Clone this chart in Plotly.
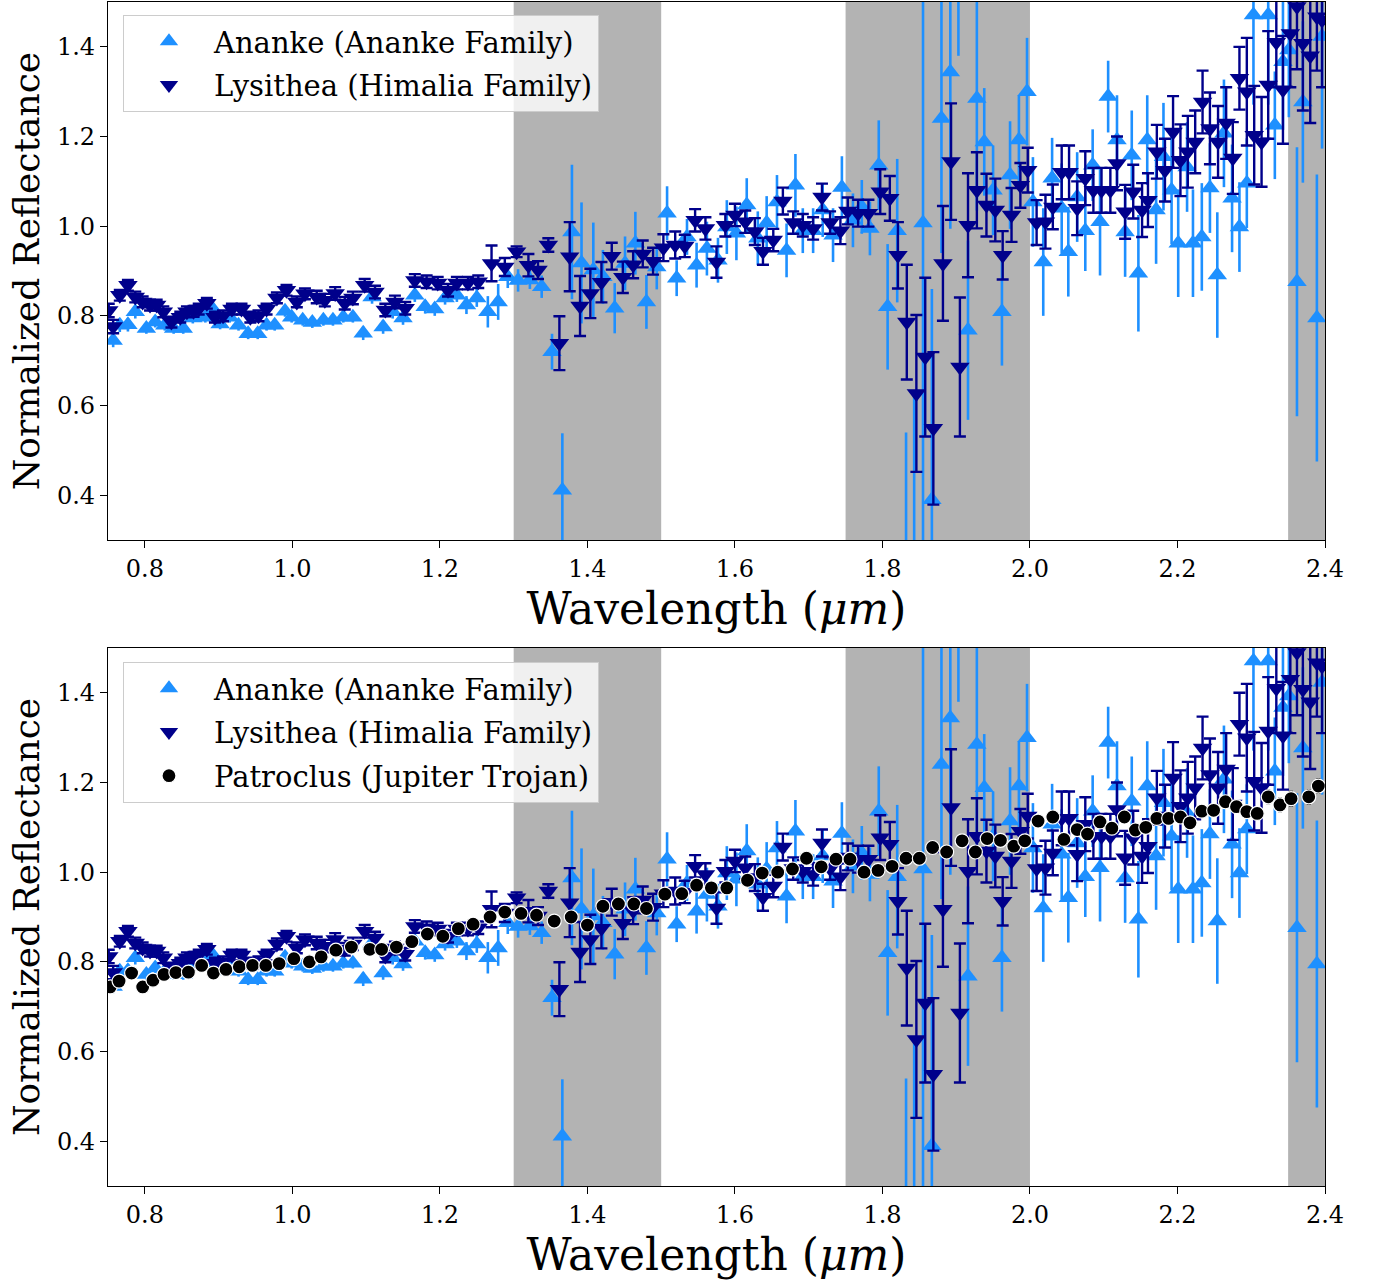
import plotly.graph_objects as go

# ---------------- data ----------------
ananke_wl = [0.757, 0.766, 0.777, 0.787, 0.802, 0.814, 0.827, 0.839, 0.852, 0.865,
             0.882, 0.892, 0.902, 0.915, 0.927, 0.940, 0.953, 0.965, 0.976, 0.990,
             0.999, 1.014, 1.027, 1.042, 1.055, 1.069, 1.082, 1.096, 1.108, 1.123,
             1.136, 1.150, 1.166, 1.180, 1.193, 1.207, 1.223, 1.236, 1.250, 1.265,
             1.279, 1.292, 1.306, 1.322, 1.338, 1.352, 1.366, 1.379, 1.392, 1.408,
             1.421, 1.437, 1.451, 1.465, 1.480, 1.494, 1.508, 1.521, 1.535, 1.548,
             1.562, 1.577, 1.589, 1.602, 1.616, 1.631, 1.643, 1.657, 1.670, 1.682,
             1.692, 1.706, 1.719, 1.733, 1.745, 1.760, 1.772, 1.783, 1.795, 1.807,
             1.820, 1.832, 1.843, 1.855, 1.867, 1.880, 1.892, 1.903, 1.916, 1.928,
             1.938, 1.950, 1.962, 1.973, 1.985, 1.996, 2.004, 2.018, 2.030, 2.043,
             2.052, 2.064, 2.075, 2.085, 2.095, 2.106, 2.118, 2.129, 2.138, 2.147,
             2.159, 2.171, 2.181, 2.192, 2.201, 2.213, 2.221, 2.233, 2.244, 2.254,
             2.263, 2.274, 2.284, 2.294, 2.303, 2.323, 2.332, 2.343, 2.351, 2.362,
             2.370, 2.389, 2.396]
ananke_refl = [0.745, 0.779, 0.780, 0.809, 0.772, 0.786, 0.779, 0.772, 0.772, 0.795,
               0.797, 0.815, 0.782, 0.797, 0.779, 0.760, 0.760, 0.779, 0.779, 0.810,
               0.797, 0.790, 0.785, 0.790, 0.790, 0.797, 0.797, 0.761, 0.842, 0.775,
               0.809, 0.795, 0.846, 0.820, 0.815, 0.840, 0.846, 0.824, 0.840, 0.809,
               0.831, 0.887, 0.879, 0.880, 0.865, 0.720, 0.411, 0.987, 0.918, 0.902,
               0.887, 0.817, 0.917, 0.962, 0.831, 0.909, 1.029, 0.884, 0.976, 0.913,
               0.950, 0.924, 0.998, 0.984, 1.047, 0.973, 1.007, 1.054, 0.946, 1.091,
               0.990, 0.990, 1.036, 0.980, 1.086, 1.013, 1.043, 0.995, 1.136, 0.820,
               0.990, 0.200, 0.250, 1.007, 0.390, 1.240, 1.344, 1.620, 0.768, 1.285,
               1.188, 1.080, 0.809, 1.114, 1.192, 1.300, 1.054, 0.920, 1.107, 1.040,
               0.943, 1.065, 0.990, 1.136, 1.010, 1.289, 1.192, 0.987, 1.158, 0.895,
               1.192, 1.036, 1.155, 1.080, 0.962, 1.132, 0.962, 0.976, 1.085, 0.891,
               1.207, 1.062, 0.998, 1.096, 1.471, 1.471, 1.225, 1.367, 1.393, 0.876,
               1.277, 0.795, 1.423]
ananke_err = [0.015, 0.015, 0.015, 0.015, 0.012, 0.012, 0.012, 0.012, 0.012, 0.012,
              0.012, 0.012, 0.012, 0.012, 0.012, 0.012, 0.012, 0.012, 0.012, 0.012,
              0.012, 0.012, 0.012, 0.012, 0.012, 0.012, 0.012, 0.015, 0.015, 0.015,
              0.015, 0.015, 0.015, 0.015, 0.015, 0.015, 0.015, 0.020, 0.020, 0.035,
              0.040, 0.025, 0.025, 0.020, 0.025, 0.040, 0.127, 0.150, 0.135, 0.106,
              0.060, 0.056, 0.060, 0.070, 0.060, 0.050, 0.060, 0.040, 0.040, 0.050,
              0.060, 0.050, 0.060, 0.060, 0.060, 0.060, 0.060, 0.060, 0.060, 0.070,
              0.050, 0.050, 0.060, 0.060, 0.070, 0.060, 0.060, 0.060, 0.100, 0.140,
              0.160, 0.340, 0.380, 0.750, 0.470, 0.300, 0.350, 0.240, 0.200, 0.250,
              0.120, 0.100, 0.120, 0.120, 0.100, 0.120, 0.100, 0.120, 0.090, 0.100,
              0.100, 0.100, 0.090, 0.080, 0.120, 0.080, 0.100, 0.100, 0.100, 0.130,
              0.100, 0.120, 0.120, 0.120, 0.120, 0.100, 0.120, 0.120, 0.100, 0.140,
              0.120, 0.120, 0.100, 0.100, 0.200, 0.200, 0.120, 0.150, 0.150, 0.300,
              0.180, 0.320, 0.250]

lysithea_wl = [0.751, 0.757, 0.766, 0.777, 0.787, 0.797, 0.807, 0.816, 0.825, 0.836,
               0.848, 0.857, 0.866, 0.873, 0.884, 0.895, 0.906, 0.918, 0.931, 0.943,
               0.954, 0.965, 0.979, 0.992, 1.006, 1.017, 1.033, 1.044, 1.058, 1.071,
               1.082, 1.098, 1.112, 1.126, 1.139, 1.153, 1.166, 1.182, 1.197, 1.211,
               1.223, 1.238, 1.252, 1.270, 1.288, 1.304, 1.320, 1.333, 1.347, 1.362,
               1.376, 1.390, 1.404, 1.419, 1.433, 1.448, 1.462, 1.475, 1.489, 1.503,
               1.519, 1.532, 1.546, 1.560, 1.575, 1.587, 1.600, 1.614, 1.627, 1.638,
               1.652, 1.665, 1.679, 1.692, 1.706, 1.718, 1.729, 1.743, 1.753, 1.767,
               1.781, 1.797, 1.810, 1.821, 1.833, 1.846, 1.858, 1.869, 1.882, 1.893,
               1.905, 1.916, 1.928, 1.941, 1.953, 1.963, 1.975, 1.987, 1.997, 2.009,
               2.021, 2.031, 2.043, 2.053, 2.064, 2.075, 2.086, 2.097, 2.109, 2.118,
               2.129, 2.140, 2.152, 2.160, 2.172, 2.183, 2.194, 2.204, 2.214, 2.224,
               2.234, 2.244, 2.255, 2.266, 2.275, 2.284, 2.294, 2.304, 2.314, 2.323,
               2.334, 2.343, 2.353, 2.362, 2.370, 2.380, 2.389, 2.396]
lysithea_refl = [0.812, 0.776, 0.846, 0.868, 0.842, 0.831, 0.824, 0.824, 0.809, 0.786,
                 0.797, 0.809, 0.810, 0.815, 0.828, 0.797, 0.800, 0.815, 0.815, 0.797,
                 0.800, 0.815, 0.840, 0.857, 0.831, 0.849, 0.842, 0.835, 0.850, 0.828,
                 0.840, 0.868, 0.853, 0.813, 0.831, 0.817, 0.879, 0.876, 0.873, 0.857,
                 0.873, 0.873, 0.876, 0.917, 0.909, 0.943, 0.913, 0.902, 0.958, 0.739,
                 0.932, 0.822, 0.850, 0.875, 0.933, 0.886, 0.914, 0.938, 0.922, 0.952,
                 0.958, 0.956, 1.013, 0.995, 0.920, 1.002, 1.025, 1.010, 0.988, 0.944,
                 0.969, 1.056, 1.008, 1.002, 0.995, 1.065, 1.008, 0.990, 1.034, 1.029,
                 1.029, 1.077, 1.062, 0.935, 0.786, 0.627, 0.708, 0.549, 0.917, 1.144,
                 0.686, 1.002, 1.080, 1.047, 1.036, 0.935, 1.025, 1.091, 1.125, 1.008,
                 1.010, 1.043, 1.120, 1.120, 1.040, 1.107, 1.080, 1.080, 1.080, 1.140,
                 1.032, 1.077, 1.036, 1.058, 1.166, 1.125, 1.210, 1.147, 1.166, 1.188,
                 1.277, 1.218, 1.188, 1.230, 1.152, 1.330, 1.300, 1.203, 1.188, 1.315,
                 1.410, 1.304, 1.430, 1.490, 1.408, 1.380, 1.467, 1.460]
lysithea_err = [0.015, 0.015, 0.012, 0.012, 0.012, 0.012, 0.012, 0.012, 0.012, 0.012,
                0.012, 0.012, 0.012, 0.012, 0.012, 0.012, 0.012, 0.012, 0.012, 0.012,
                0.012, 0.012, 0.012, 0.012, 0.012, 0.012, 0.014, 0.014, 0.014, 0.014,
                0.014, 0.014, 0.014, 0.014, 0.014, 0.014, 0.014, 0.014, 0.014, 0.014,
                0.014, 0.014, 0.014, 0.040, 0.020, 0.012, 0.025, 0.020, 0.015, 0.060,
                0.077, 0.067, 0.055, 0.045, 0.030, 0.035, 0.030, 0.030, 0.030, 0.030,
                0.030, 0.025, 0.025, 0.025, 0.035, 0.025, 0.025, 0.025, 0.030, 0.030,
                0.025, 0.030, 0.025, 0.025, 0.025, 0.030, 0.025, 0.030, 0.030, 0.030,
                0.030, 0.050, 0.050, 0.074, 0.128, 0.175, 0.177, 0.170, 0.128, 0.130,
                0.155, 0.116, 0.085, 0.070, 0.070, 0.054, 0.060, 0.050, 0.050, 0.050,
                0.060, 0.050, 0.060, 0.060, 0.060, 0.060, 0.050, 0.050, 0.050, 0.060,
                0.060, 0.060, 0.060, 0.060, 0.060, 0.070, 0.080, 0.080, 0.080, 0.070,
                0.070, 0.080, 0.080, 0.080, 0.080, 0.070, 0.120, 0.110, 0.100, 0.120,
                0.100, 0.120, 0.120, 0.140, 0.150, 0.150, 0.120, 0.150]

patroclus_wl = [0.753, 0.765, 0.782, 0.797, 0.811, 0.826, 0.842, 0.859, 0.877, 0.893,
                0.910, 0.928, 0.946, 0.964, 0.982, 1.002, 1.023, 1.039, 1.059, 1.080,
                1.105, 1.121, 1.141, 1.162, 1.183, 1.204, 1.225, 1.245, 1.268, 1.288,
                1.310, 1.331, 1.355, 1.378, 1.400, 1.421, 1.442, 1.463, 1.480, 1.505,
                1.528, 1.548, 1.568, 1.589, 1.617, 1.637, 1.658, 1.678, 1.697, 1.717,
                1.737, 1.756, 1.775, 1.794, 1.813, 1.832, 1.850, 1.868, 1.887, 1.908,
                1.926, 1.942, 1.960, 1.978, 1.993, 2.011, 2.031, 2.046, 2.064, 2.078,
                2.095, 2.111, 2.128, 2.143, 2.157, 2.172, 2.188, 2.204, 2.217, 2.233,
                2.249, 2.265, 2.280, 2.294, 2.308, 2.323, 2.339, 2.354, 2.378, 2.391]
patroclus_refl = [0.744, 0.757, 0.775, 0.744, 0.759, 0.772, 0.776, 0.777, 0.792, 0.775,
                  0.783, 0.789, 0.792, 0.792, 0.796, 0.807, 0.800, 0.811, 0.826, 0.833,
                  0.828, 0.828, 0.833, 0.845, 0.862, 0.857, 0.874, 0.884, 0.900, 0.911,
                  0.908, 0.904, 0.891, 0.900, 0.882, 0.924, 0.929, 0.929, 0.919, 0.951,
                  0.952, 0.971, 0.965, 0.965, 0.982, 0.998, 1.000, 1.007, 1.031, 1.012,
                  1.029, 1.029, 1.000, 1.004, 1.013, 1.031, 1.031, 1.055, 1.045, 1.070,
                  1.045, 1.075, 1.071, 1.058, 1.070, 1.114, 1.123, 1.073, 1.095, 1.085,
                  1.112, 1.098, 1.123, 1.094, 1.100, 1.120, 1.120, 1.123, 1.110, 1.136,
                  1.138, 1.157, 1.146, 1.135, 1.131, 1.168, 1.150, 1.164, 1.168, 1.192]
patroclus_err = [0.006, 0.006, 0.006, 0.006, 0.006, 0.006, 0.006, 0.006, 0.006, 0.006,
                 0.006, 0.006, 0.006, 0.006, 0.006, 0.006, 0.006, 0.006, 0.006, 0.006,
                 0.006, 0.006, 0.006, 0.006, 0.006, 0.006, 0.006, 0.006, 0.006, 0.006,
                 0.007, 0.007, 0.007, 0.007, 0.007, 0.007, 0.007, 0.007, 0.007, 0.007,
                 0.007, 0.007, 0.007, 0.007, 0.007, 0.007, 0.007, 0.007, 0.007, 0.007,
                 0.008, 0.008, 0.008, 0.008, 0.008, 0.008, 0.008, 0.008, 0.008, 0.008,
                 0.008, 0.008, 0.008, 0.008, 0.008, 0.008, 0.008, 0.008, 0.008, 0.008,
                 0.009, 0.009, 0.009, 0.009, 0.009, 0.009, 0.009, 0.009, 0.009, 0.010,
                 0.010, 0.010, 0.010, 0.012, 0.012, 0.014, 0.014, 0.015, 0.015, 0.015]

telluric_bands = [(1.30, 1.50), (1.75, 2.00), (2.35, 2.40)]
x_ticks = [0.8, 1.0, 1.2, 1.4, 1.6, 1.8, 2.0, 2.2, 2.4]
y_ticks = [0.4, 0.6, 0.8, 1.0, 1.2, 1.4]

names = {
    "ananke": "Ananke (Ananke Family)",
    "lysithea": "Lysithea (Himalia Family)",
    "patroclus": "Patroclus (Jupiter Trojan)",
}

# ---------------- style ----------------
SERIF = "DejaVu Serif"
C_ANANKE = "#1E90FF"
C_LYS = "#00008B"
BAND = "#b3b3b3"

fig = go.Figure()


def add_ananke(xa, ya, legend, group):
    fig.add_trace(go.Scatter(
        x=ananke_wl, y=ananke_refl, mode="markers", name=names["ananke"],
        xaxis=xa, yaxis=ya, legend=legend, legendgroup=group,
        marker=dict(symbol="triangle-up", size=17, color=C_ANANKE, line=dict(width=0)),
        error_y=dict(type="data", array=ananke_err, visible=True,
                     color=C_ANANKE, thickness=2.6, width=0),
    ))


def add_lysithea(xa, ya, legend, group):
    fig.add_trace(go.Scatter(
        x=lysithea_wl, y=lysithea_refl, mode="markers", name=names["lysithea"],
        xaxis=xa, yaxis=ya, legend=legend, legendgroup=group,
        marker=dict(symbol="triangle-down", size=17, color=C_LYS, line=dict(width=0)),
        error_y=dict(type="data", array=lysithea_err, visible=True,
                     color=C_LYS, thickness=2.4, width=6),
    ))


add_ananke("x", "y", "legend", "a1")
add_lysithea("x", "y", "legend", "l1")
add_ananke("x2", "y2", "legend2", "a2")
add_lysithea("x2", "y2", "legend2", "l2")
fig.add_trace(go.Scatter(
    x=patroclus_wl, y=patroclus_refl, mode="markers", name=names["patroclus"],
    xaxis="x2", yaxis="y2", legend="legend2", legendgroup="p2",
    marker=dict(symbol="circle", size=14, color="black", line=dict(width=1.2, color="white")),
    error_y=dict(type="data", array=patroclus_err, visible=True,
                 color="black", thickness=2.2, width=2),
))

shapes = []
for xr, yr in (("x", "y domain"), ("x2", "y2 domain")):
    for lo, hi in telluric_bands:
        shapes.append(dict(type="rect", xref=xr, yref=yr, x0=lo, x1=hi, y0=0, y1=1,
                           fillcolor=BAND, line=dict(width=0), layer="below"))

axis_common = dict(
    showgrid=False, zeroline=False, showline=True, linecolor="black", linewidth=1.3,
    mirror=True, ticks="outside", ticklen=7, tickwidth=1.3, tickcolor="black",
    tickfont=dict(family=SERIF, size=24, color="black"),
)

xtitle = dict(text="Wavelength (<i>μm</i>)", font=dict(family=SERIF, size=44, color="black"),
              standoff=4)
ytitle = dict(text="Normalized Reflectance", font=dict(family=SERIF, size=36, color="black"),
              standoff=6)

legend_common = dict(
    x=0.0123, xanchor="left", yanchor="top",
    bgcolor="rgba(255,255,255,0.8)", bordercolor="#cccccc", borderwidth=1,
    font=dict(family=SERIF, size=29, color="black"),
    tracegroupgap=3, itemwidth=80,
)

fig.update_layout(
    width=1375, height=1281,
    margin=dict(l=108, r=50, t=2, b=95),
    paper_bgcolor="white", plot_bgcolor="white",
    showlegend=True,
    xaxis=dict(domain=[0, 1], anchor="y", range=[0.75, 2.4], tickvals=x_ticks,
               tickformat=".1f", title=xtitle, **axis_common),
    yaxis=dict(domain=[0.5456, 1], anchor="x", range=[0.3, 1.5], tickvals=y_ticks,
               tickformat=".1f", title=ytitle, **axis_common),
    xaxis2=dict(domain=[0, 1], anchor="y2", range=[0.75, 2.4], tickvals=x_ticks,
                tickformat=".1f", title=xtitle, **axis_common),
    yaxis2=dict(domain=[0, 0.4544], anchor="x2", range=[0.3, 1.5], tickvals=y_ticks,
                tickformat=".1f", title=ytitle, **axis_common),
    legend=dict(y=0.989, **legend_common),
    legend2=dict(y=0.4426, **legend_common),
    shapes=shapes,
)

fig.write_html("out.html")
